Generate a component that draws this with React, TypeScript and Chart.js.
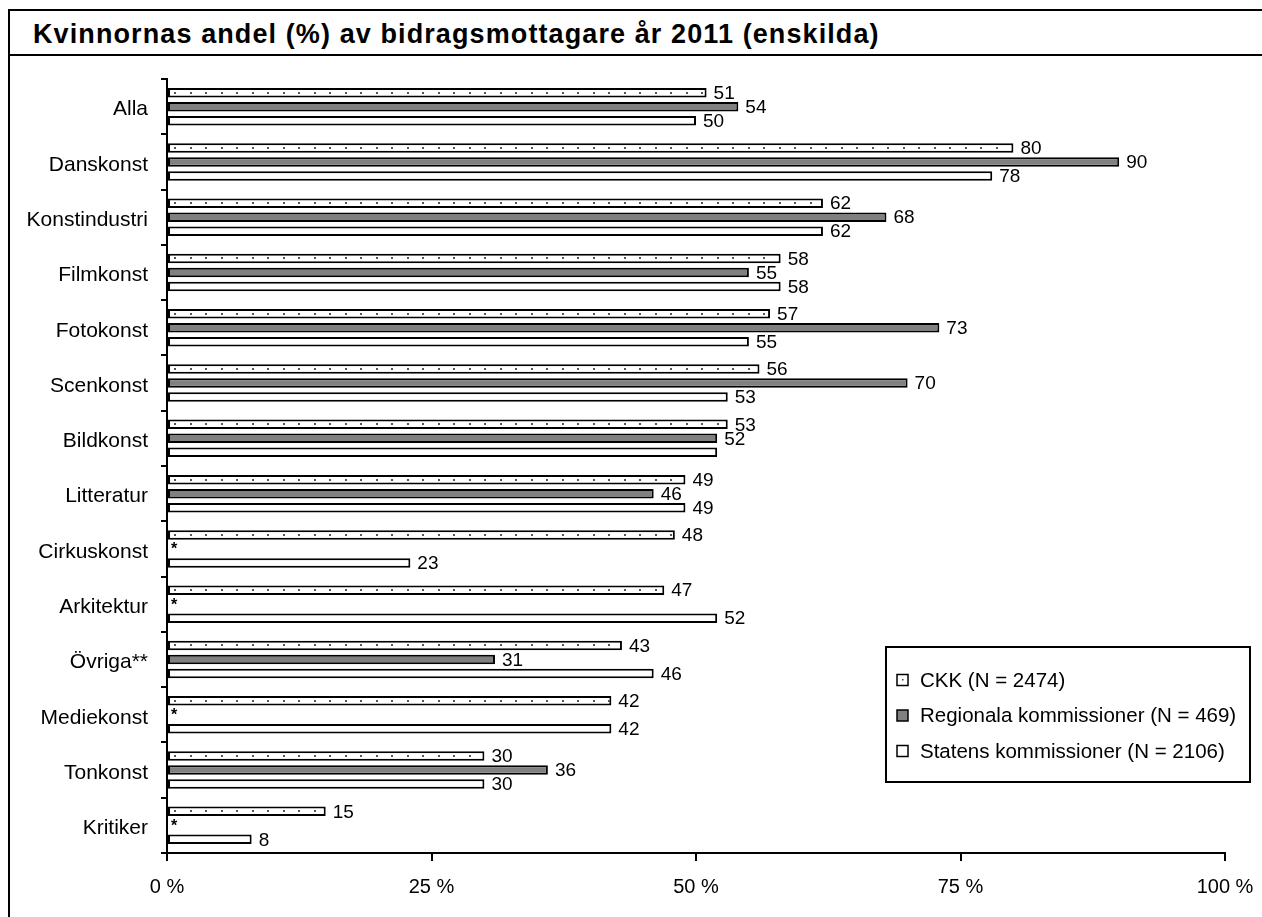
import React, { useEffect, useRef } from "react";
import { Chart, registerables } from "chart.js";

Chart.register(...registerables);

const title = "Kvinnornas andel (%) av bidragsmottagare år 2011 (enskilda)";
const categories = [
  "Alla", "Danskonst", "Konstindustri", "Filmkonst", "Fotokonst", "Scenkonst", "Bildkonst",
  "Litteratur", "Cirkuskonst", "Arkitektur", "Övriga**", "Mediekonst", "Tonkonst", "Kritiker",
];
const ckkValues = [51, 80, 62, 58, 57, 56, 53, 49, 48, 47, 43, 42, 30, 15];
const regionalaValues: (number | null)[] = [54, 90, 68, 55, 73, 70, 52, 46, null, null, 31, null, 36, null];
const statensValues = [50, 78, 62, 58, 55, 53, 52, 49, 23, 52, 46, 42, 30, 8];
const seriesLabels = ["CKK (N = 2474)", "Regionala kommissioner (N = 469)", "Statens kommissioner (N = 2106)"];
const xTickValues = [0, 25, 50, 75, 100];
const xTickSuffix = " %";
const missingMark = "*";
// value labels that are not shown in the original (series index, category)
const hiddenValueLabels = [{ series: 2, category: "Bildkonst" }];

const FONT = "'Liberation Sans', Arial, sans-serif";
const GREY = "#808080";

const dotsPlugin = {
  id: "dots",
  afterDatasetsDraw(chart: any) {
    const ctx = chart.ctx;
    const meta = chart.getDatasetMeta(0);
    ctx.save();
    ctx.fillStyle = "#555";
    meta.data.forEach((el: any) => {
      const p = el.getProps(["x", "y", "base", "height"], true);
      const start = Math.min(p.x, p.base) + 3;
      const end = Math.max(p.x, p.base) - 3;
      for (let x = start + 3; x < end; x += 15.5) {
        ctx.fillRect(Math.round(x), Math.round(p.y) - 1, 2, 2);
      }
    });
    ctx.restore();
  },
};

const labelsPlugin = {
  id: "valueLabels",
  afterDatasetsDraw(chart: any) {
    const ctx = chart.ctx;
    ctx.save();
    ctx.font = `19px ${FONT}`;
    ctx.fillStyle = "#000";
    ctx.textBaseline = "middle";
    ctx.textAlign = "left";
    chart.data.datasets.forEach((ds: any, di: number) => {
      const meta = chart.getDatasetMeta(di);
      meta.data.forEach((el: any, i: number) => {
        const v = ds.data[i];
        if (v === null || v === undefined) return;
        if (hiddenValueLabels.some((h) => h.series === di && h.category === categories[i])) return;
        const p = el.getProps(["x", "y"], true);
        ctx.fillText(String(v), p.x + 7, p.y + 1);
      });
    });
    // missing marks
    const xs = chart.scales.x;
    const ys = chart.scales.y;
    ctx.font = `bold 16px ${FONT}`;
    regionalaValues.forEach((v, i) => {
      if (v !== null) return;
      ctx.fillText(missingMark, xs.getPixelForValue(0) + 4, ys.getPixelForValue(i) + 1);
    });
    ctx.restore();
  },
};

const legendPlugin = {
  id: "boxLegend",
  afterDraw(chart: any) {
    const ctx = chart.ctx;
    const right = chart.width - 12;
    const left = right - 364;
    const top = 591;
    const h = 135;
    ctx.save();
    ctx.fillStyle = "#fff";
    ctx.fillRect(left, top, right - left, h);
    ctx.strokeStyle = "#000";
    ctx.lineWidth = 2;
    ctx.strokeRect(left, top, right - left, h);
    ctx.font = `20.5px ${FONT}`;
    ctx.textBaseline = "middle";
    ctx.textAlign = "left";
    chart.data.datasets.forEach((ds: any, i: number) => {
      const cy = top + 33 + i * 35.5;
      const mx = left + 11;
      ctx.fillStyle = ds.backgroundColor;
      ctx.fillRect(mx, cy - 5.5, 11, 11);
      ctx.lineWidth = 1.5;
      ctx.strokeStyle = "#000";
      ctx.strokeRect(mx, cy - 5.5, 11, 11);
      if (i === 0) {
        ctx.fillStyle = "#444";
        ctx.fillRect(mx + 5, cy - 1, 1.5, 1.5);
      }
      ctx.fillStyle = "#000";
      ctx.fillText(ds.label, left + 34, cy + 1);
    });
    ctx.restore();
  },
};

export default function App() {
  const ref = useRef<HTMLCanvasElement | null>(null);

  useEffect(() => {
    if (!ref.current) return;
    const chart = new Chart(ref.current, {
      type: "bar",
      data: {
        labels: categories,
        datasets: [
          { label: seriesLabels[0], data: ckkValues, backgroundColor: "#ffffff", borderColor: "#000", borderWidth: 2 },
          { label: seriesLabels[1], data: regionalaValues, backgroundColor: GREY, borderColor: "#000", borderWidth: 2 },
          { label: seriesLabels[2], data: statensValues, backgroundColor: "#ffffff", borderColor: "#000", borderWidth: 2 },
        ],
      },
      options: {
        indexAxis: "y",
        responsive: false,
        animation: false,
        events: [],
        datasets: { bar: { categoryPercentage: 0.76, barPercentage: 0.68, borderSkipped: false } },
        layout: { padding: { top: 23, right: 37, bottom: 19, left: 0 } },
        plugins: { legend: { display: false }, tooltip: { enabled: false }, title: { display: false } },
        scales: {
          x: {
            min: 0,
            max: 100,
            afterBuildTicks(scale: any) {
              scale.ticks = xTickValues.map((v) => ({ value: v }));
            },
            afterFit(scale: any) {
              scale.height = 45;
              scale.paddingLeft = 0;
              scale.paddingRight = 0;
            },
            ticks: {
              color: "#000",
              font: { family: FONT, size: 20 },
              padding: 14,
              maxRotation: 0,
              callback: (v: any) => `${v}${xTickSuffix}`,
            },
            grid: { drawOnChartArea: false, drawTicks: true, tickLength: 8, color: "#000", lineWidth: 2 },
            border: { display: true, color: "#000", width: 2 },
          },
          y: {
            afterFit(scale: any) {
              scale.width = 157;
              scale.paddingTop = 0;
              scale.paddingBottom = 0;
            },
            ticks: {
              color: "#000",
              font: { family: FONT, size: 21 },
              padding: 13,
              labelOffset: 3,
            },
            grid: { offset: true, drawOnChartArea: false, drawTicks: true, tickLength: 6, color: "#000", lineWidth: 2 },
            border: { display: true, color: "#000", width: 2 },
          },
        },
      } as any,
      plugins: [dotsPlugin, labelsPlugin, legendPlugin],
    });
    return () => chart.destroy();
  }, []);

  return (
    <div style={{ position: "fixed", left: 0, top: 0, width: 1262, height: 917, overflow: "hidden", background: "#fff" }}>
      <div
        style={{
          position: "absolute",
          left: 8,
          top: 9,
          width: 1300,
          height: 1000,
          border: "2px solid #000",
          boxSizing: "border-box",
        }}
      >
        <div
          style={{
            height: 43,
            borderBottom: "2px solid #000",
            fontFamily: FONT,
            fontWeight: "bold",
            fontSize: 27,
            letterSpacing: 1.1,
            lineHeight: "47px",
            paddingLeft: 23,
            whiteSpace: "nowrap",
            color: "#000",
          }}
        >
          {title}
        </div>
        <div style={{ position: "absolute", left: 0, top: 45 }}>
          <canvas ref={ref} width={1252} height={861} style={{ display: "block" }} />
        </div>
      </div>
    </div>
  );
}
